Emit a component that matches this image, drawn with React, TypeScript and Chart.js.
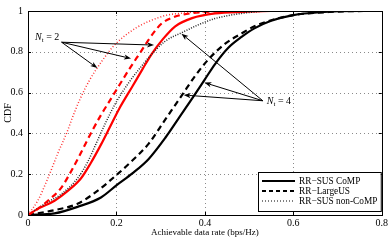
import React, { useEffect, useRef } from "react";
import { Chart, registerables } from "chart.js";

Chart.register(...registerables);

// ---- data ----
const xTicks = [0, 0.2, 0.4, 0.6, 0.8];
const yTicks = [0, 0.2, 0.4, 0.6, 0.8, 1];

// N_t = 4 (black)
const comp4X = [0, 0.06, 0.112, 0.165, 0.202, 0.236, 0.273, 0.311, 0.341, 0.371, 0.4, 0.423, 0.453, 0.483, 0.512, 0.55, 0.6, 0.66, 0.75, 0.8];
const comp4Y = [0, 0.008, 0.04, 0.086, 0.149, 0.204, 0.275, 0.38, 0.475, 0.57, 0.665, 0.74, 0.82, 0.873, 0.915, 0.952, 0.98, 0.994, 1, 1];
const large4X = [0, 0.06, 0.112, 0.157, 0.2, 0.236, 0.273, 0.311, 0.349, 0.379, 0.409, 0.446, 0.483, 0.512, 0.55, 0.6, 0.68, 0.76, 0.8];
const large4Y = [0, 0.024, 0.055, 0.118, 0.196, 0.267, 0.35, 0.47, 0.59, 0.685, 0.765, 0.84, 0.89, 0.925, 0.955, 0.98, 0.995, 1, 1];
const noncomp4X = [0, 0.02, 0.05, 0.075, 0.112, 0.135, 0.153, 0.175, 0.2, 0.23, 0.255, 0.273, 0.311, 0.349, 0.386, 0.423, 0.483, 0.55, 0.8];
const noncomp4Y = [0, 0.03, 0.07, 0.102, 0.18, 0.26, 0.345, 0.45, 0.555, 0.655, 0.725, 0.772, 0.853, 0.895, 0.933, 0.963, 0.988, 1, 1];

// N_t = 2 (red)
const comp2X = [0, 0.022, 0.06, 0.09, 0.12, 0.142, 0.165, 0.185, 0.206, 0.236, 0.259, 0.28, 0.305, 0.333, 0.371, 0.423, 0.49, 0.55];
const comp2Y = [0, 0.03, 0.07, 0.118, 0.18, 0.255, 0.345, 0.43, 0.52, 0.63, 0.715, 0.79, 0.862, 0.925, 0.965, 0.988, 0.996, 1];
const large2X = [0, 0.022, 0.045, 0.075, 0.097, 0.12, 0.142, 0.165, 0.184, 0.206, 0.232, 0.255, 0.273, 0.29, 0.303, 0.33, 0.349, 0.4, 0.45];
const large2Y = [0, 0.03, 0.07, 0.133, 0.212, 0.306, 0.4, 0.49, 0.557, 0.635, 0.725, 0.8, 0.86, 0.91, 0.94, 0.97, 0.982, 0.995, 1];
const noncomp2X = [0, 0.022, 0.045, 0.067, 0.088, 0.1, 0.117, 0.139, 0.169, 0.191, 0.214, 0.245, 0.273, 0.311, 0.35, 0.42];
const noncomp2Y = [0, 0.07, 0.18, 0.3, 0.405, 0.475, 0.565, 0.66, 0.76, 0.822, 0.87, 0.918, 0.949, 0.978, 0.99, 1];

const legendLabels = ["RR\u2212SUS CoMP", "RR\u2212LargeUS", "RR\u2212SUS non-CoMP"];
const xTitle = "Achievable data rate (bps/Hz)";
const yTitle = "CDF";

// annotation anchors in data units
const nt2Label = { sub: "t", val: "2", x: 0.016, y: 0.856 };
const nt2From = { x: 0.076, y: 0.847 };
const nt2To = [
  { x: 0.285, y: 0.833 },
  { x: 0.233, y: 0.767 },
  { x: 0.157, y: 0.72 },
];
const nt4Label = { sub: "t", val: "4", x: 0.54, y: 0.56 };
const nt4From = { x: 0.531, y: 0.56 };
const nt4To = [
  { x: 0.347, y: 0.889 },
  { x: 0.399, y: 0.649 },
  { x: 0.352, y: 0.588 },
];

const pts = (xs: number[], ys: number[]) => xs.map((x, i) => ({ x, y: ys[i] }));

const SERIF = "'Liberation Serif', 'DejaVu Serif', serif";

function arrow(ctx: CanvasRenderingContext2D, x0: number, y0: number, x1: number, y1: number) {
  const ang = Math.atan2(y1 - y0, x1 - x0);
  const L = 7, W = 2.6;
  ctx.beginPath();
  ctx.moveTo(x0, y0);
  ctx.lineTo(x1 - Math.cos(ang) * L * 0.8, y1 - Math.sin(ang) * L * 0.8);
  ctx.stroke();
  ctx.beginPath();
  ctx.moveTo(x1, y1);
  ctx.lineTo(x1 - Math.cos(ang) * L - Math.sin(ang) * W, y1 - Math.sin(ang) * L + Math.cos(ang) * W);
  ctx.lineTo(x1 - Math.cos(ang) * L * 0.75, y1 - Math.sin(ang) * L * 0.75);
  ctx.lineTo(x1 - Math.cos(ang) * L + Math.sin(ang) * W, y1 - Math.sin(ang) * L - Math.cos(ang) * W);
  ctx.closePath();
  ctx.fill();
}

function ntText(ctx: CanvasRenderingContext2D, x: number, y: number, sub: string, val: string) {
  ctx.textBaseline = "alphabetic";
  ctx.textAlign = "left";
  ctx.font = `italic 10px ${SERIF}`;
  ctx.fillText("N", x, y);
  let cx = x + ctx.measureText("N").width;
  ctx.font = `7px ${SERIF}`;
  ctx.fillText(sub, cx, y + 2);
  cx += ctx.measureText(sub).width;
  ctx.font = `10px ${SERIF}`;
  ctx.fillText(" = " + val, cx, y);
}

const gridPlugin = {
  id: "dotGrid",
  beforeDatasetsDraw(chart: any) {
    const { ctx, chartArea, scales } = chart;
    ctx.save();
    ctx.strokeStyle = "#8a8a8a";
    ctx.lineWidth = 1;
    ctx.setLineDash([1, 3]);
    ctx.beginPath();
    xTicks.slice(1, -1).forEach((v) => {
      const px = Math.round(scales.x.getPixelForValue(v)) + 0.5;
      ctx.moveTo(px, chartArea.top);
      ctx.lineTo(px, chartArea.bottom);
    });
    yTicks.slice(1, -1).forEach((v) => {
      const py = Math.round(scales.y.getPixelForValue(v)) + 0.5;
      ctx.moveTo(chartArea.left, py);
      ctx.lineTo(chartArea.right, py);
    });
    ctx.stroke();
    ctx.restore();
  },
};

const decorPlugin = {
  id: "decor",
  afterDatasetsDraw(chart: any) {
    const { ctx, chartArea, scales } = chart;
    const xs = scales.x, ys = scales.y;
    ctx.save();
    // box
    ctx.strokeStyle = "#000";
    ctx.lineWidth = 1;
    ctx.strokeRect(Math.round(chartArea.left) + 0.5, Math.round(chartArea.top) + 0.5,
      Math.round(chartArea.right - chartArea.left), Math.round(chartArea.bottom - chartArea.top));
    // inward ticks
    ctx.beginPath();
    xTicks.forEach((v) => {
      const px = Math.round(xs.getPixelForValue(v)) + 0.5;
      ctx.moveTo(px, chartArea.bottom); ctx.lineTo(px, chartArea.bottom - 3);
      ctx.moveTo(px, chartArea.top); ctx.lineTo(px, chartArea.top + 3);
    });
    yTicks.forEach((v) => {
      const py = Math.round(ys.getPixelForValue(v)) + 0.5;
      ctx.moveTo(chartArea.left, py); ctx.lineTo(chartArea.left + 3, py);
      ctx.moveTo(chartArea.right, py); ctx.lineTo(chartArea.right - 3, py);
    });
    ctx.stroke();

    // annotations
    ctx.fillStyle = "#000";
    ctx.strokeStyle = "#000";
    ctx.lineWidth = 1;
    const P = (p: { x: number; y: number }) => [xs.getPixelForValue(p.x), ys.getPixelForValue(p.y)];
    const [a0, a1] = P(nt2From);
    nt2To.forEach((t) => { const [b0, b1] = P(t); arrow(ctx, a0, a1, b0, b1); });
    const [c0, c1] = P(nt4From);
    nt4To.forEach((t) => { const [b0, b1] = P(t); arrow(ctx, c0, c1, b0, b1); });
    const [l0, l1] = P(nt2Label);
    ntText(ctx, l0, l1, nt2Label.sub, nt2Label.val);
    const [m0, m1] = P(nt4Label);
    ntText(ctx, m0, m1 + 3.5, nt4Label.sub, nt4Label.val);

    // legend
    const bx = 258, by = 172, bw = chartArea.right - 1 - bx, bh = 39;
    ctx.fillStyle = "#fff";
    ctx.fillRect(bx, by, bw, bh);
    ctx.strokeStyle = "#000";
    ctx.lineWidth = 1;
    ctx.strokeRect(bx + 0.5, by + 0.5, bw, bh);
    const styles = [
      { dash: [] as number[], w: 2 },
      { dash: [4, 3], w: 2 },
      { dash: [1, 2], w: 1 },
    ];
    ctx.font = `9.3px ${SERIF}`;
    ctx.textBaseline = "middle";
    ctx.textAlign = "left";
    legendLabels.forEach((lab, i) => {
      const yy = by + 9 + i * 10;
      ctx.beginPath();
      ctx.setLineDash(styles[i].dash);
      ctx.lineWidth = styles[i].w;
      ctx.strokeStyle = "#000";
      ctx.moveTo(262, yy);
      ctx.lineTo(295, yy);
      ctx.stroke();
      ctx.setLineDash([]);
      ctx.fillStyle = "#000";
      ctx.fillText(lab, 299, yy + 0.5);
    });
    ctx.restore();
  },
};

export default function App() {
  const ref = useRef<HTMLCanvasElement | null>(null);
  useEffect(() => {
    document.body.style.margin = "0";
    const canvas = ref.current!;
    const chart = new Chart(canvas, {
      type: "line",
      data: {
        datasets: [
          { label: "noncomp2", data: pts(noncomp2X, noncomp2Y), borderColor: "#ff3030", borderWidth: 1.5, borderDash: [1, 2] },
          { label: "large2", data: pts(large2X, large2Y), borderColor: "#ff0000", borderWidth: 2.2, borderDash: [6, 4] },
          { label: "noncomp4", data: pts(noncomp4X, noncomp4Y), borderColor: "#222", borderWidth: 1.5, borderDash: [1, 1.5] },
          { label: "comp2", data: pts(comp2X, comp2Y), borderColor: "#ff0000", borderWidth: 2.2 },
          { label: "large4", data: pts(large4X, large4Y), borderColor: "#000", borderWidth: 2.2, borderDash: [6, 4] },
          { label: "comp4", data: pts(comp4X, comp4Y), borderColor: "#000", borderWidth: 2.2 },
        ].map((d) => ({ ...d, pointRadius: 0, fill: false, cubicInterpolationMode: "monotone" as const })),
      },
      options: {
        responsive: false,
        animation: false,
        layout: { padding: { top: 3, right: 5, left: 0, bottom: 0 } },
        plugins: { legend: { display: false }, tooltip: { enabled: false } },
        scales: {
          x: {
            type: "linear",
            min: 0,
            max: 0.8,
            afterFit: (s: any) => { s.height = 25; },
            afterBuildTicks: (s: any) => { s.ticks = xTicks.map((v) => ({ value: v })); },
            ticks: {
              padding: 2,
              color: "#000",
              font: { family: SERIF, size: 10 },
              callback: (v: any) => String(Number(Number(v).toFixed(1))),
              maxRotation: 0,
            },
            grid: { display: false, drawTicks: false },
            border: { display: false },
            title: { display: true, text: xTitle, color: "#000", font: { family: SERIF, size: 9 }, padding: { top: 0, bottom: 2 } },
          },
          y: {
            type: "linear",
            min: 0,
            max: 1,
            afterFit: (s: any) => { s.width = 28; },
            afterBuildTicks: (s: any) => { s.ticks = yTicks.map((v) => ({ value: v })); },
            ticks: {
              padding: 5,
              color: "#000",
              font: { family: SERIF, size: 10 },
              callback: (v: any) => String(Number(Number(v).toFixed(1))),
            },
            grid: { display: false, drawTicks: false },
            border: { display: false },
            title: { display: true, text: yTitle, color: "#000", font: { family: SERIF, size: 10 }, padding: { top: 2, bottom: 0 } },
          },
        },
      },
      plugins: [gridPlugin, decorPlugin],
    });
    return () => chart.destroy();
  }, []);
  return (
    <div style={{ position: "fixed", left: 0, top: 0, width: 390, height: 240, background: "#fff" }}>
      <canvas ref={ref} width={390} height={240} />
    </div>
  );
}
